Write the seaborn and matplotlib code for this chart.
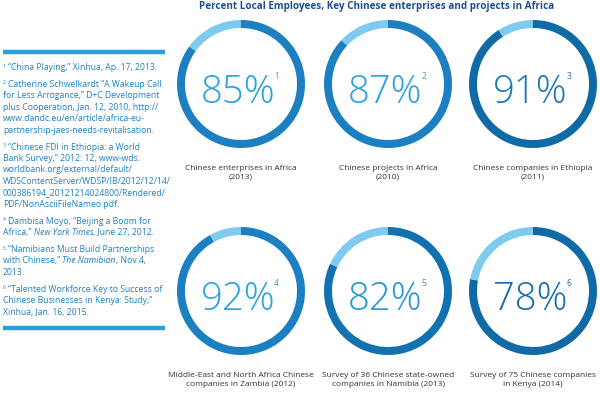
import matplotlib
matplotlib.use("Agg")
import matplotlib.pyplot as plt
import seaborn as sns

# Data
values = [85, 87, 91, 92, 82, 78]
note_marks = ["1", "2", "3", "4", "5", "6"]
labels = [
    "Chinese enterprises in Africa\n(2013)",
    "Chinese projects in Africa\n(2010)",
    "Chinese companies in Ethiopia\n(2011)",
    "Middle-East and North Africa Chinese\ncompanies in Zambia (2012)",
    "Survey of 36 Chinese state-owned\ncompanies in Namibia (2013)",
    "Survey of 75 Chinese companies\nin Kenya (2014)",
]
ring_colors = ["#1b7fc1", "#1b7fc1", "#0f6aa6", "#1b7fc1", "#1271b0", "#0f6aa6"]
number_colors = ["#2ba1dd", "#2ba1dd", "#1a76b4", "#2ba1dd", "#2298d5", "#1a6dab"]
rest_color = "#7fcbf0"

title = "Percent Local Employees, Key Chinese enterprises and projects in Africa"

# each footnote: list of lines, each line a list of (text, italic) pieces
footnotes = [
    [[("“China Playing,” Xinhua, Ap. 17, 2013.", False)]],
    [[("Catherine Schwelkardt “A Wakeup Call", False)],
     [("for Less Arrogance,” D+C Development", False)],
     [("plus Cooperation, Jan. 12, 2010, http://", False)],
     [("www.dandc.eu/en/article/africa-eu-", False)],
     [("partnership-jaes-needs-revitalisation.", False)]],
    [[("“Chinese FDI in Ethiopia: a World", False)],
     [("Bank Survey,” 2012: 12, www-wds.", False)],
     [("worldbank.org/external/default/", False)],
     [("WDSContentServer/WDSP/IB/2012/12/14/", False)],
     [("000386194_20121214024800/Rendered/", False)],
     [("PDF/NonAsciiFileNameo.pdf.", False)]],
    [[("Dambisa Moyo, “Beijing a Boom for", False)],
     [("Africa,”", False), ("New York Times", True), (", June 27, 2012.", False)]],
    [[("“Namibians Must Build Partnerships", False)],
     [("with Chinese,”", False), ("The Namibian", True), (", Nov.4,", False)],
     [("2013.", False)]],
    [[("“Talented Workforce Key to Success of", False)],
     [("Chinese Businesses in Kenya: Study,”", False)],
     [("Xinhua, Jan. 16, 2015.", False)]],
]

sns.set_theme(style="white")
plt.rcParams["font.family"] = ["Open Sans", "DejaVu Sans"]

W, H = 600, 393
fig = plt.figure(figsize=(6, 3.93), dpi=100)
bg = fig.add_axes([0, 0, 1, 1])
bg.set_xlim(0, W)
bg.set_ylim(H, 0)
bg.axis("off")
renderer = fig.canvas.get_renderer()
inv = bg.transData.inverted()


def right_edge(t):
    bb = t.get_window_extent(renderer)
    return inv.transform((bb.x1, bb.y1))[0]


# title
bg.text(377, 7, title, ha="center", va="center", fontsize=7.1,
        fontweight="bold", color="#1d4f8f")

# left column of sources
bar_color = "#2a9fdc"
fn_color = "#1c80c4"
fn_size = 6.2
bg.plot([3, 165], [52, 52], color=bar_color, lw=3.2, solid_capstyle="butt")
bg.plot([3, 165], [328, 328], color=bar_color, lw=3.2, solid_capstyle="butt")
y = 67
for k, fn in enumerate(footnotes):
    for j, line in enumerate(fn):
        x = 3
        if j == 0:
            s = bg.text(x, y + 0.5, note_marks[k], ha="left", va="baseline",
                        fontsize=3.6, color=fn_color)
            x = right_edge(s) + 2.2
        for n, (piece, italic) in enumerate(line):
            if n > 0 and not piece.startswith(","):
                x += 2.2
            t = bg.text(x, y + 3, piece, ha="left", va="baseline",
                        fontsize=fn_size, color=fn_color,
                        fontstyle="italic" if italic else "normal")
            x = right_edge(t)
        y += 11.4
    y += 17 - 11.4

# rings
r = 64
centers_x = [241, 388, 533, 241, 388, 533]
centers_y = [84, 84, 84, 291, 291, 291]
for i, v in enumerate(values):
    cx, cy = centers_x[i], centers_y[i]
    ax = fig.add_axes([(cx - r) / W, (H - cy - r) / H, 2 * r / W, 2 * r / H])
    ax.pie([v, 100 - v], colors=[ring_colors[i], rest_color], startangle=90,
           counterclock=False, wedgeprops=dict(width=0.125, edgecolor="none"))
    ax.set_xlim(-1, 1)
    ax.set_ylim(-1, 1)
    ax.axis("off")
    t = bg.text(cx - 3, cy + 19, f"{v}%", ha="center", va="baseline",
                fontsize=27.5, fontweight="light", color=number_colors[i])
    bg.text(right_edge(t) - 1, cy - 12, note_marks[i], ha="left", va="top",
            fontsize=6.2, color=number_colors[i])
    bg.text(cx, cy + r + 17, labels[i], ha="center", va="top", fontsize=6.0,
            color="#333333", linespacing=1.35)

fig.savefig("out.png", dpi=100, facecolor="white")
